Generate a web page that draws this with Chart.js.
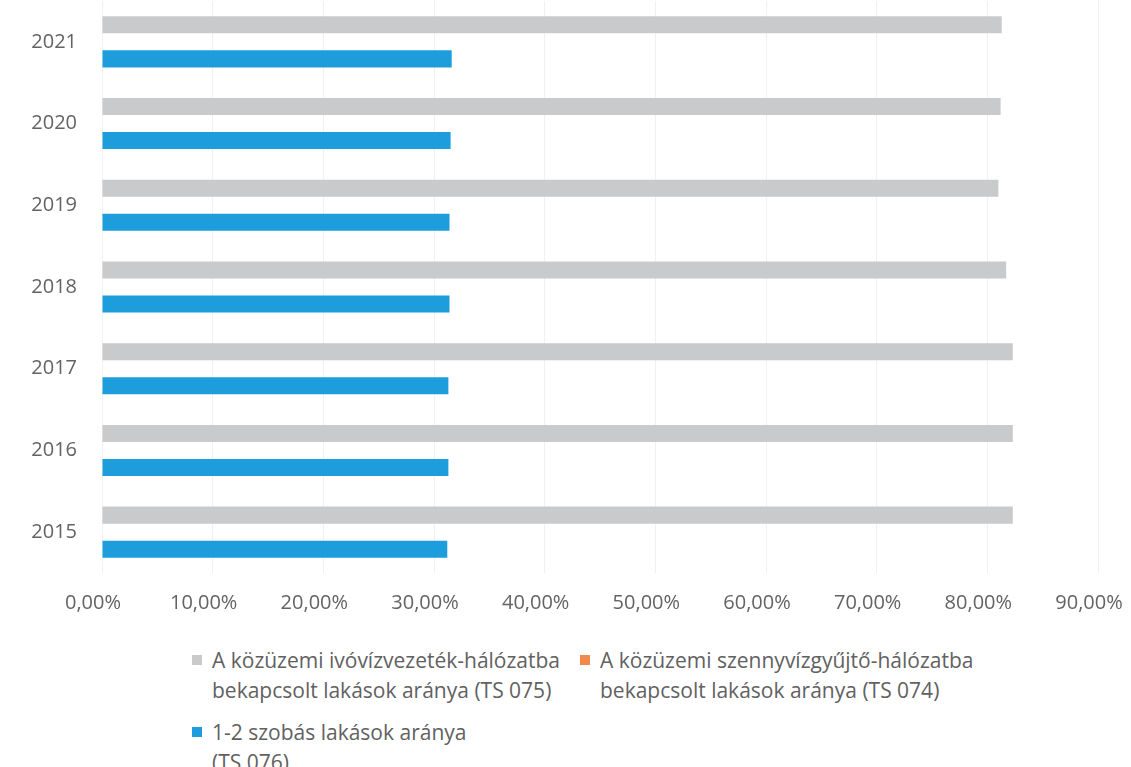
<!DOCTYPE html>
<html>
<head>
<meta charset="utf-8">
<script src="https://cdn.jsdelivr.net/npm/chart.js@4/dist/chart.umd.min.js"></script>
<style>
  html, body { margin: 0; padding: 0; background: #fff; }
  body { width: 1131px; height: 767px; overflow: hidden; position: relative; font-family: 'Open Sans', sans-serif; }
  #wrap { position: absolute; left: 0; top: 0; width: 1131px; height: 630px; }
  #legend {
    position: absolute; left: 190px; top: 645px;
    display: grid; grid-template-columns: 388px auto; row-gap: 12px;
    color: #616161; font-size: 21px; line-height: 30px;
  }
  .item { display: flex; align-items: flex-start; }
  .box { width: 10px; height: 10px; margin: 10px 10px 0 2px; flex: none; }
</style>
</head>
<body>
<div id="wrap"><canvas id="myChart" width="1131" height="630"></canvas></div>
<div id="legend"></div>
<script>
const textColor = '#636363';
const fontName = "'Open Sans', sans-serif";

// categories, top to bottom
const years = ['2021', '2020', '2019', '2018', '2017', '2016', '2015'];

// series values (%)
const waterNetwork = [81.3, 81.2, 81.0, 81.7, 82.3, 82.3, 82.3];
const sewerNetwork = [null, null, null, null, null, null, null];
const smallFlats = [31.6, 31.5, 31.4, 31.4, 31.3, 31.3, 31.2];

// legend texts, one entry per line
const waterLabel = ['A közüzemi ivóvízvezeték-hálózatba', 'bekapcsolt lakások aránya (TS 075)'];
const sewerLabel = ['A közüzemi szennyvízgyűjtő-hálózatba', 'bekapcsolt lakások aránya (TS 074)'];
const smallLabel = ['1-2 szobás lakások aránya', '(TS 076)'];

const xTicks = [0, 10, 20, 30, 40, 50, 60, 70, 80, 90];

const datasets = [
  { label: waterLabel.join(' '), lines: waterLabel, data: waterNetwork, backgroundColor: '#c9cacb' },
  { label: sewerLabel.join(' '), lines: sewerLabel, data: sewerNetwork, backgroundColor: '#ef8a4c' },
  { label: smallLabel.join(' '), lines: smallLabel, data: smallFlats, backgroundColor: '#1e9ddd' },
];
datasets.forEach(function (d) {
  d.barPercentage = 1;
  d.categoryPercentage = 0.625;
});

var ctx = document.getElementById('myChart');
var chart = new Chart(ctx, {
  type: 'bar',
  data: { labels: years, datasets: datasets },
  options: {
    indexAxis: 'y',
    responsive: false,
    animation: false,
    layout: { padding: { top: 1, right: 33, left: 0, bottom: 0 } },
    plugins: { legend: { display: false }, tooltip: { enabled: false } },
    scales: {
      x: {
        min: 0,
        max: 90,
        afterBuildTicks: function (s) { s.ticks = xTicks.map(function (v) { return { value: v }; }); },
        afterFit: function (s) {
          s.height = 57;
          s.paddingLeft = 0;
          s.paddingRight = 0;
        },
        border: { display: false },
        grid: { color: '#f1f1f1', drawTicks: false },
        ticks: {
          padding: 18,
          labelOffset: -9,
          color: textColor,
          font: { family: fontName, size: 20 },
          maxRotation: 0,
          callback: function (v) { return v.toFixed(2).replace('.', ',') + '%'; },
        },
      },
      y: {
        afterFit: function (s) {
          s.width = 102;
          s.paddingTop = 0;
          s.paddingBottom = 0;
        },
        border: { display: false },
        grid: { display: false, drawTicks: false },
        ticks: { padding: 25, color: textColor, font: { family: fontName, size: 20 } },
      },
    },
  },
});

// html legend, two columns like the original
var legend = document.getElementById('legend');
datasets.forEach(function (d) {
  var item = document.createElement('div');
  item.className = 'item';
  var box = document.createElement('span');
  box.className = 'box';
  box.style.background = d.backgroundColor;
  var txt = document.createElement('span');
  txt.innerHTML = d.lines.join('<br>');
  item.appendChild(box);
  item.appendChild(txt);
  legend.appendChild(item);
});
</script>
</body>
</html>
